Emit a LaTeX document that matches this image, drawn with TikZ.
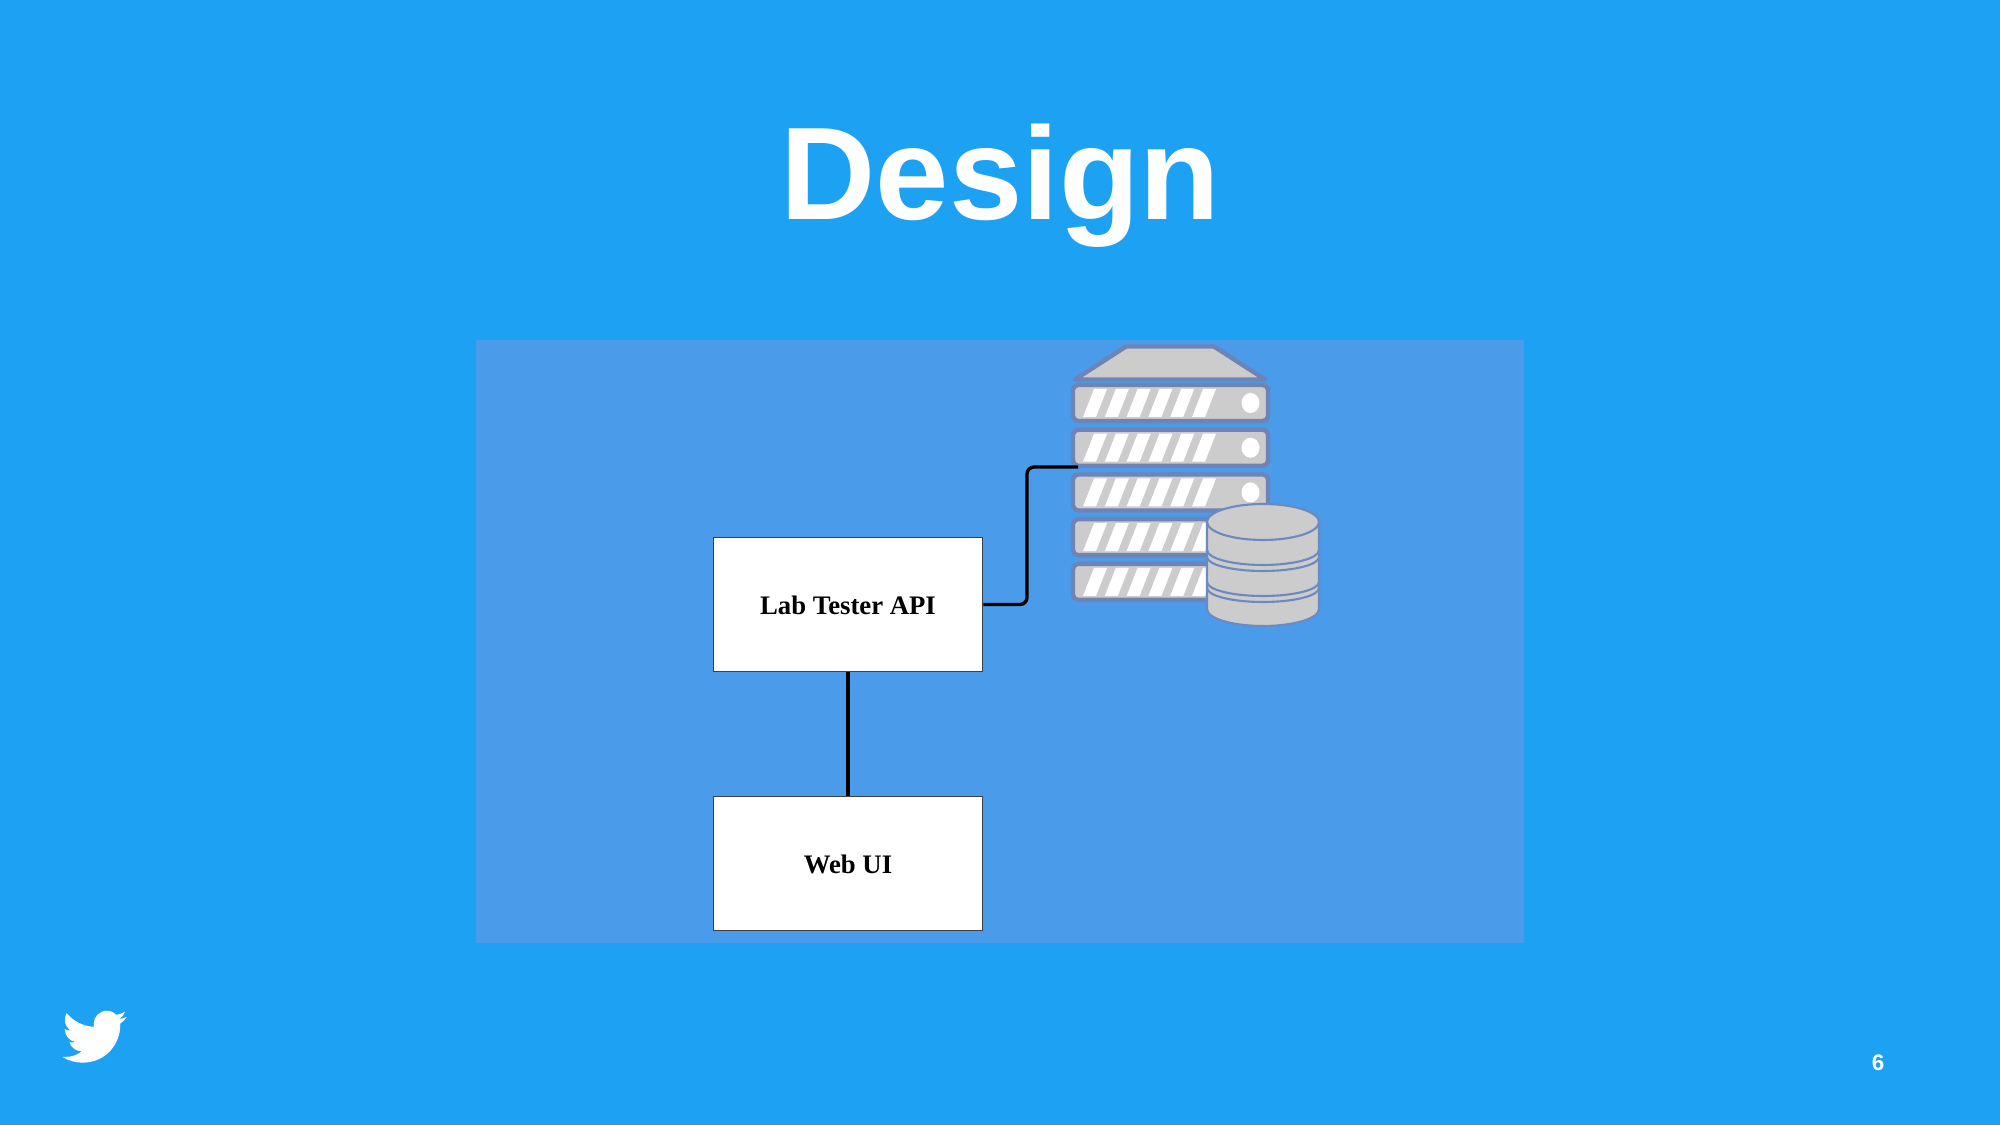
\documentclass[tikz,border=0pt]{standalone}
\usepackage{fontspec}
\usepackage{tikz}
\usetikzlibrary{svg.path}
\setmainfont{Liberation Sans}
\newfontfamily\boxfont{Liberation Serif}
\definecolor{sky}{HTML}{1DA1F2}
\definecolor{panel}{HTML}{4A9BE9}
\definecolor{metal}{HTML}{CCCCCC}
\definecolor{rim}{HTML}{6E84B6}
\definecolor{dbrim}{HTML}{6C8ABF}
\tikzset{
  box/.style={shape=rectangle, draw=black!75, line width=0.45pt, fill=white, minimum width=2.69cm, minimum height=1.34cm, inner sep=0pt, text height=5.9pt, text depth=0pt, font=\boxfont\bfseries\fontsize{7.6pt}{9pt}\selectfont},
  link/.style={draw=black, line width=0.95pt},
  rack/.style={draw=rim, fill=metal, line width=1.25pt, line join=round},
  drum/.style={draw=dbrim, line width=0.6pt}
}
\begin{document}
\begin{tikzpicture}[x=0.01cm, y=-0.01cm]
\path[use as bounding box, fill=sky] (0,0) rectangle (2000,1125);
\fill[panel] (476,340) rectangle (1524,943);

\node[anchor=base, text=white, font=\bfseries\fontsize{37.5pt}{40pt}\selectfont](title) at (1000.5,220) {Design};

\draw[rack] (1126,346.5) -- (1214,346.5) -- (1265,379.5) -- (1075,379.5) -- cycle;
\foreach \row in {0,...,4} {
  \begin{scope}[yshift={-\row*0.447cm}]
    \draw[rack, rounded corners=0.05cm] (1073,385) rectangle (1268,421);
    \foreach \k in {0,...,5} {
      \fill[white] ({1083+\k*21.8},417) -- ({1096+\k*21.8},417) -- ({1107+\k*21.8},389) -- ({1094+\k*21.8},389) -- cycle;
    }
    \fill[white] (1250.5,403) ellipse[x radius=9, y radius=10];
  \end{scope}
}

\path[drum, fill=metal] (1207,522) -- (1207,609) arc[start angle=180, end angle=0, x radius=56, y radius=17] -- (1319,522) -- cycle;
\draw[drum, fill=metal] (1263,522) ellipse[x radius=56, y radius=18];
\draw[drum] (1207,550) arc[start angle=180, end angle=0, x radius=56, y radius=15];
\draw[drum] (1207,557) arc[start angle=180, end angle=0, x radius=56, y radius=14];
\draw[drum] (1207,582) arc[start angle=180, end angle=0, x radius=56, y radius=14];
\draw[drum] (1207,588) arc[start angle=180, end angle=0, x radius=56, y radius=14];

\node[box](api) at (848,604.5) {Lab Tester API};
\node[box](webui) at (848,863.5) {Web UI};
\coordinate (bend) at (1027,467);
\coordinate (server) at (1078,467);

\path[link] (api) edge (webui);
\draw[link, rounded corners=0.07cm] (api.east) -| (bend) -- (server);

\fill[white, shift={(59.5,1003)}, xscale=0.81, yscale=-0.80] svg "M23.643 4.937c-.835.37-1.732.62-2.675.733.962-.576 1.7-1.49 2.048-2.578-.9.534-1.897.922-2.958 1.13-.85-.904-2.06-1.47-3.4-1.47-2.572 0-4.658 2.086-4.658 4.66 0 .364.042.718.12 1.06-3.873-.195-7.304-2.05-9.602-4.868-.4.69-.63 1.49-.63 2.342 0 1.616.823 3.043 2.072 3.878-.764-.025-1.482-.234-2.11-.583v.06c0 2.257 1.605 4.14 3.737 4.568-.392.106-.803.162-1.227.162-.3 0-.593-.028-.877-.082.593 1.85 2.313 3.198 4.352 3.234-1.595 1.25-3.604 1.995-5.786 1.995-.376 0-.747-.022-1.112-.065 2.062 1.323 4.51 2.093 7.14 2.093 8.57 0 13.255-7.098 13.255-13.254 0-.2-.005-.402-.014-.602.91-.658 1.7-1.477 2.323-2.41z";

\node[text=white, font=\bfseries\fontsize{6.4pt}{7pt}\selectfont](page) at (1878,1062.5) {6};
\end{tikzpicture}
\end{document}
